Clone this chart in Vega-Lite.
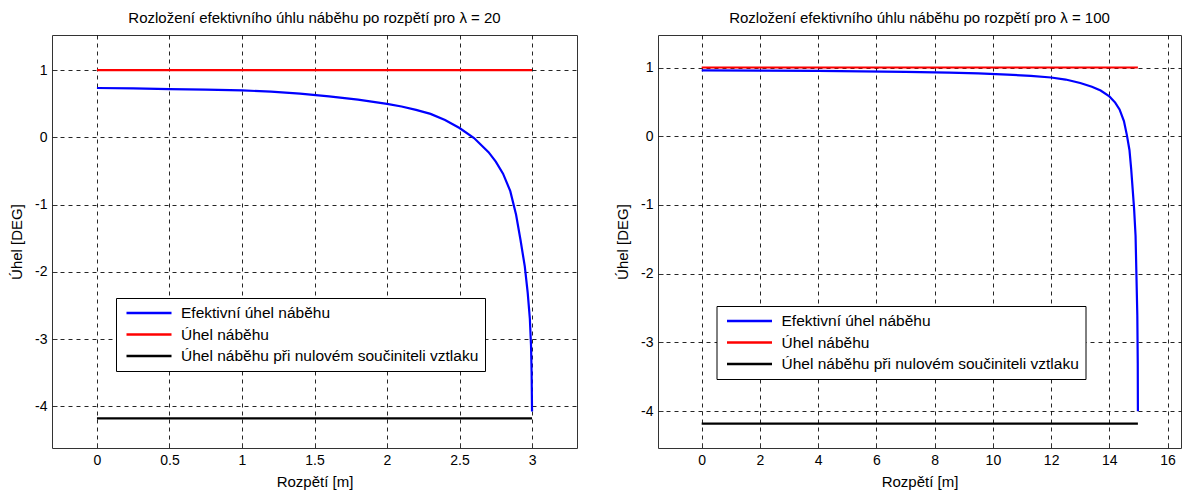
{
  "$schema": "https://vega.github.io/schema/vega-lite/v6.json",
  "background": "white",
  "autosize": {"type": "pad"},
  "padding": {"left": 9, "top": 10, "right": 0, "bottom": 0},
  "bounds": "flush",
  "spacing": 81,
  "config": {
    "font": "Liberation Sans",
    "view": {"stroke": "#333333", "strokeWidth": 1},
    "axis": {
      "grid": true,
      "gridColor": "#000000",
      "gridOpacity": 0.85,
      "gridDash": [4, 4],
      "gridWidth": 1,
      "domain": false,
      "ticks": true,
      "tickSize": -5,
      "tickColor": "#333333",
      "labelFont": "Liberation Sans",
      "labelFontSize": 14,
      "labelColor": "#000000",
      "labelPadding": 10,
      "labelExpr": "replace(datum.label, '−', '-')",
      "titleFont": "Liberation Sans",
      "titleFontSize": 15,
      "titleFontWeight": "normal",
      "titleColor": "#000000"
    },
    "axisX": {"titlePadding": 7},
    "axisY": {"titlePadding": 10},
    "title": {"font": "Liberation Sans", "fontSize": 15, "fontWeight": "normal", "color": "#000000", "offset": 9},
    "legend": {
      "orient": "none",
      "strokeColor": "#000000",
      "fillColor": "#ffffff",
      "padding": 6,
      "symbolType": "M-3,0H3",
      "symbolSize": 225,
      "symbolStrokeWidth": 2.5,
      "symbolOffset": 18,
      "labelFont": "Liberation Sans",
      "labelFontSize": 15.5,
      "labelColor": "#000000",
      "labelOffset": 23,
      "labelLimit": 0,
      "rowPadding": 3.5
    }
  },
  "resolve": {
    "scale": {"x": "independent", "y": "independent", "color": "independent"},
    "legend": {"color": "independent"},
    "axis": {"x": "independent", "y": "independent"}
  },
  "datasets": {
    "lambda20": [
      {"series": "Efektivní úhel náběhu", "x": 0, "y": 0.735},
      {"series": "Efektivní úhel náběhu", "x": 0.25, "y": 0.73},
      {"series": "Efektivní úhel náběhu", "x": 0.5, "y": 0.72},
      {"series": "Efektivní úhel náběhu", "x": 0.75, "y": 0.712},
      {"series": "Efektivní úhel náběhu", "x": 1, "y": 0.7},
      {"series": "Efektivní úhel náběhu", "x": 1.2, "y": 0.68},
      {"series": "Efektivní úhel náběhu", "x": 1.4, "y": 0.652},
      {"series": "Efektivní úhel náběhu", "x": 1.6, "y": 0.612},
      {"series": "Efektivní úhel náběhu", "x": 1.8, "y": 0.562},
      {"series": "Efektivní úhel náběhu", "x": 2, "y": 0.5},
      {"series": "Efektivní úhel náběhu", "x": 2.1, "y": 0.46},
      {"series": "Efektivní úhel náběhu", "x": 2.2, "y": 0.41},
      {"series": "Efektivní úhel náběhu", "x": 2.3, "y": 0.35},
      {"series": "Efektivní úhel náběhu", "x": 2.4, "y": 0.26},
      {"series": "Efektivní úhel náběhu", "x": 2.5, "y": 0.14},
      {"series": "Efektivní úhel náběhu", "x": 2.6, "y": -0.01},
      {"series": "Efektivní úhel náběhu", "x": 2.7, "y": -0.22},
      {"series": "Efektivní úhel náběhu", "x": 2.75, "y": -0.36},
      {"series": "Efektivní úhel náběhu", "x": 2.8, "y": -0.54},
      {"series": "Efektivní úhel náběhu", "x": 2.85, "y": -0.8},
      {"series": "Efektivní úhel náběhu", "x": 2.89, "y": -1.15},
      {"series": "Efektivní úhel náběhu", "x": 2.92, "y": -1.52},
      {"series": "Efektivní úhel náběhu", "x": 2.95, "y": -1.92},
      {"series": "Efektivní úhel náběhu", "x": 2.97, "y": -2.31},
      {"series": "Efektivní úhel náběhu", "x": 2.985, "y": -2.7},
      {"series": "Efektivní úhel náběhu", "x": 2.993, "y": -3.1},
      {"series": "Efektivní úhel náběhu", "x": 2.997, "y": -3.5},
      {"series": "Efektivní úhel náběhu", "x": 3, "y": -4.08},
      {"series": "Úhel náběhu", "x": 0, "y": 1},
      {"series": "Úhel náběhu", "x": 3, "y": 1},
      {"series": "Úhel náběhu při nulovém součiniteli vztlaku", "x": 0, "y": -4.18},
      {"series": "Úhel náběhu při nulovém součiniteli vztlaku", "x": 3, "y": -4.18}
    ],
    "lambda100": [
      {"series": "Efektivní úhel náběhu", "x": 0, "y": 0.957},
      {"series": "Efektivní úhel náběhu", "x": 2, "y": 0.955},
      {"series": "Efektivní úhel náběhu", "x": 4, "y": 0.95},
      {"series": "Efektivní úhel náběhu", "x": 5.5, "y": 0.945},
      {"series": "Efektivní úhel náběhu", "x": 7, "y": 0.937},
      {"series": "Efektivní úhel náběhu", "x": 8.5, "y": 0.925},
      {"series": "Efektivní úhel náběhu", "x": 9.5, "y": 0.915},
      {"series": "Efektivní úhel náběhu", "x": 10.5, "y": 0.897},
      {"series": "Efektivní úhel náběhu", "x": 11.3, "y": 0.877},
      {"series": "Efektivní úhel náběhu", "x": 12, "y": 0.855},
      {"series": "Efektivní úhel náběhu", "x": 12.5, "y": 0.825},
      {"series": "Efektivní úhel náběhu", "x": 13, "y": 0.775},
      {"series": "Efektivní úhel náběhu", "x": 13.4, "y": 0.72},
      {"series": "Efektivní úhel náběhu", "x": 13.7, "y": 0.665},
      {"series": "Efektivní úhel náběhu", "x": 14, "y": 0.58},
      {"series": "Efektivní úhel náběhu", "x": 14.2, "y": 0.49},
      {"series": "Efektivní úhel náběhu", "x": 14.35, "y": 0.39},
      {"series": "Efektivní úhel náběhu", "x": 14.5, "y": 0.22},
      {"series": "Efektivní úhel náběhu", "x": 14.6, "y": 0.02},
      {"series": "Efektivní úhel náběhu", "x": 14.69, "y": -0.2},
      {"series": "Efektivní úhel náběhu", "x": 14.75, "y": -0.48},
      {"series": "Efektivní úhel náběhu", "x": 14.8, "y": -0.77},
      {"series": "Efektivní úhel náběhu", "x": 14.85, "y": -1.06},
      {"series": "Efektivní úhel náběhu", "x": 14.9, "y": -1.45},
      {"series": "Efektivní úhel náběhu", "x": 14.93, "y": -2.03},
      {"series": "Efektivní úhel náběhu", "x": 14.96, "y": -2.61},
      {"series": "Efektivní úhel náběhu", "x": 14.975, "y": -3.3},
      {"series": "Efektivní úhel náběhu", "x": 14.98, "y": -4.0},
      {"series": "Úhel náběhu", "x": 0, "y": 1},
      {"series": "Úhel náběhu", "x": 14.98, "y": 1},
      {"series": "Úhel náběhu při nulovém součiniteli vztlaku", "x": 0, "y": -4.18},
      {"series": "Úhel náběhu při nulovém součiniteli vztlaku", "x": 14.98, "y": -4.18}
    ]
  },
  "hconcat": [
    {
      "width": 525,
      "height": 413,
      "title": "Rozložení efektivního úhlu náběhu po rozpětí pro λ = 20",
      "data": {"name": "lambda20"},
      "mark": {"type": "line", "strokeWidth": 2.2},
      "encoding": {
        "x": {"field": "x", "type": "quantitative", "scale": {"domain": [-0.31, 3.31], "nice": false, "zero": false},
              "axis": {"values": [0, 0.5, 1, 1.5, 2, 2.5, 3], "format": "~g", "title": "Rozpětí [m]"}},
        "y": {"field": "y", "type": "quantitative", "scale": {"domain": [-4.622, 1.524], "nice": false, "zero": false},
              "axis": {"values": [-4, -3, -2, -1, 0, 1], "format": "~g", "title": "Úhel [DEG]"}},
        "color": {"field": "series", "type": "nominal",
                  "scale": {"domain": ["Efektivní úhel náběhu", "Úhel náběhu", "Úhel náběhu při nulovém součiniteli vztlaku"], "range": ["#0000ff", "#ff0000", "#000000"]},
                  "legend": {"title": null, "legendX": 64, "legendY": 263}}
      }
    },
    {
      "width": 523,
      "height": 413,
      "title": "Rozložení efektivního úhlu náběhu po rozpětí pro λ = 100",
      "data": {"name": "lambda100"},
      "mark": {"type": "line", "strokeWidth": 2.2},
      "encoding": {
        "x": {"field": "x", "type": "quantitative", "scale": {"domain": [-1.5, 16.46], "nice": false, "zero": false},
              "axis": {"values": [0, 2, 4, 6, 8, 10, 12, 14, 16], "format": "~g", "title": "Rozpětí [m]"}},
        "y": {"field": "y", "type": "quantitative", "scale": {"domain": [-4.535, 1.473], "nice": false, "zero": false},
              "axis": {"values": [-4, -3, -2, -1, 0, 1], "format": "~g", "title": "Úhel [DEG]"}},
        "color": {"field": "series", "type": "nominal",
                  "scale": {"domain": ["Efektivní úhel náběhu", "Úhel náběhu", "Úhel náběhu při nulovém součiniteli vztlaku"], "range": ["#0000ff", "#ff0000", "#000000"]},
                  "legend": {"title": null, "legendX": 58.5, "legendY": 271}}
      }
    }
  ]
}
